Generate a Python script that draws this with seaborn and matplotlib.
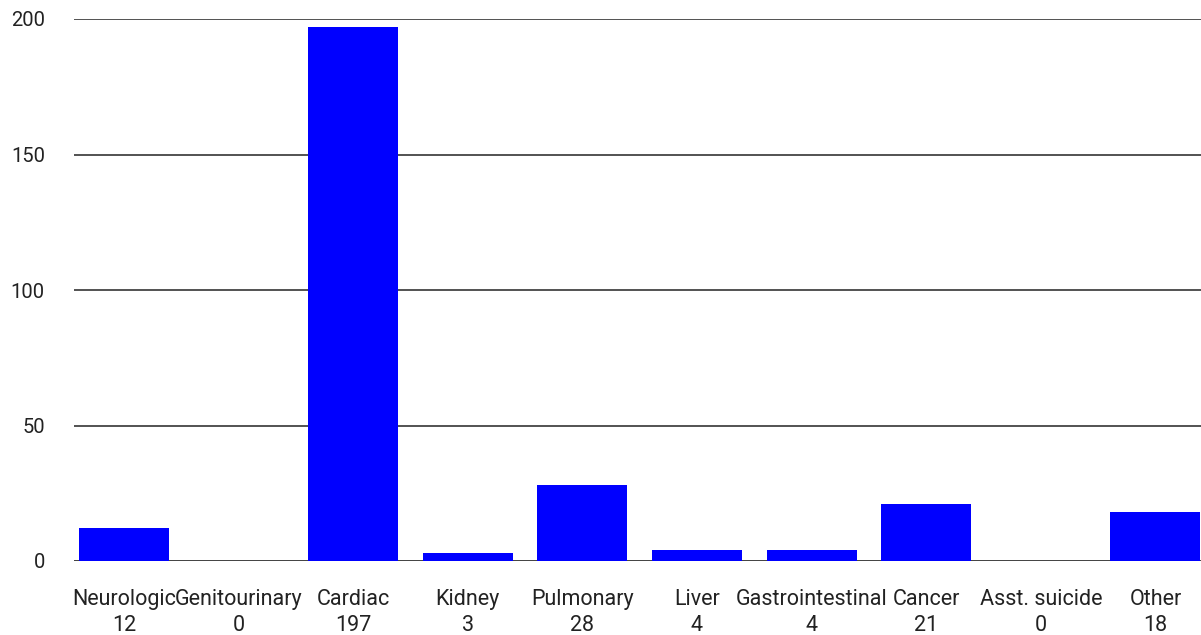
import matplotlib
matplotlib.use("Agg")
import matplotlib.pyplot as plt
import seaborn as sns
import pandas as pd

# data
categories = ['Neurologic', 'Genitourinary', 'Cardiac', 'Kidney', 'Pulmonary',
              'Liver', 'Gastrointestinal', 'Cancer', 'Asst. suicide', 'Other']
counts = [12, 0, 197, 3, 28, 4, 4, 21, 0, 18]
y_ticks = [0, 50, 100, 150, 200]

sns.set_theme(style="white")
plt.rcParams['font.family'] = ['Roboto', 'DejaVu Sans']

df = pd.DataFrame({'category': categories, 'count': counts})

W, H = 1201, 635
slot = 114.6  # px per category
fig = plt.figure(figsize=(W / 100, H / 100), dpi=100)
ax = fig.add_axes([74 / W, 1 - 561 / H, (W - 74) / W, (561 - 19) / H])

sns.barplot(data=df, x='category', y='count', color='#0000ff', saturation=1,
            width=90 / slot, linewidth=0, ax=ax, zorder=3)

# gridlines behind bars
for t in y_ticks:
    ax.axhline(t, color='#444444' if t else '#333333', linewidth=1.3, zorder=1)

ax.set_ylim(0, 200)
ax.set_xlim(-(124 - 74) / slot, (1201 - 124) / slot)
ax.set_yticks(y_ticks)
ax.set_yticklabels([str(t) for t in y_ticks], fontsize=14.5, color='#222222')
ax.set_xticks(range(len(categories)))
ax.set_xticklabels([f'{c}\n{v}' for c, v in zip(categories, counts)],
                   fontsize=15.5, color='#222222', linespacing=1.3)
ax.tick_params(axis='y', length=0, pad=21)
ax.tick_params(axis='x', length=0, pad=20)
ax.set_xlabel('')
ax.set_ylabel('')
for s in ax.spines.values():
    s.set_visible(False)

fig.savefig('out.png', dpi=100)
